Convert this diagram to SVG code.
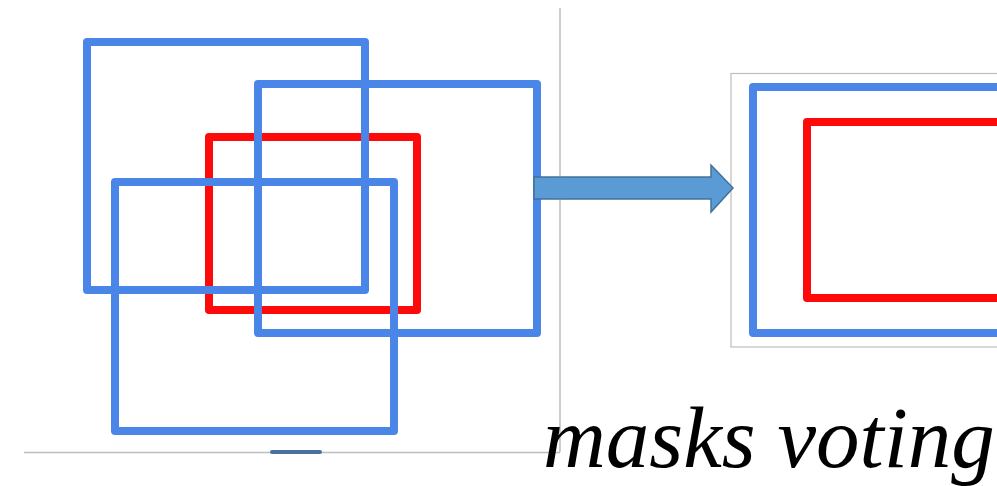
<svg xmlns="http://www.w3.org/2000/svg" width="997" height="486" viewBox="0 0 997 486">
  <style>
    .box { fill: none; stroke-width: 8; stroke-linejoin: round; }
    .blue { stroke: #4a86e8; }
    .red { stroke: #ff0a0a; }
    .guide { stroke: #bdbdbd; stroke-width: 1.5; fill: none; }
    .frame { stroke: #bdbdbd; stroke-width: 1.2; fill: #ffffff; }
    .arrow { fill: #5b9bd5; stroke: #41719c; stroke-width: 1.5; stroke-linejoin: miter; }
    .label { font-family: "Liberation Serif", "Times New Roman", serif; font-style: italic; font-size: 87px; fill: #000000; }
  </style>
  <rect width="997" height="486" fill="#ffffff"/>

  <!-- panel guide lines -->
  <g id="guides">
    <line class="guide" x1="560" y1="8" x2="560" y2="452"/>
    <line class="guide" x1="24" y1="452.5" x2="560" y2="452.5"/>
  </g>

  <!-- candidate masks before voting -->
  <g id="candidates">
    <g id="mask-red"><rect class="box red" x="209" y="137" width="208" height="173"/></g>
    <g id="mask-a"><rect class="box blue" x="87" y="42" width="278" height="248"/></g>
    <g id="mask-b"><rect class="box blue" x="258" y="84" width="279" height="249"/></g>
    <g id="mask-c"><rect class="box blue" x="115" y="182" width="279" height="249"/></g>
    <rect id="stub" x="270" y="450" width="52" height="4" rx="2" fill="#4a6fa5"/>
  </g>

  <!-- voting result -->
  <g id="result">
    <rect class="frame" x="731" y="73.5" width="280" height="273.5"/>
    <g id="result-blue"><rect class="box blue" x="753" y="87" width="260" height="246"/></g>
    <g id="result-red"><rect class="box red" x="807" y="122" width="210" height="176"/></g>
  </g>

  <!-- connector -->
  <g id="connectors">
    <polygon class="arrow" points="534,177 711,177 711,165 733,188 711,212 711,199 534,199"/>
  </g>

  <g id="caption">
    <text class="label" x="543" y="467">masks voting</text>
  </g>
</svg>
